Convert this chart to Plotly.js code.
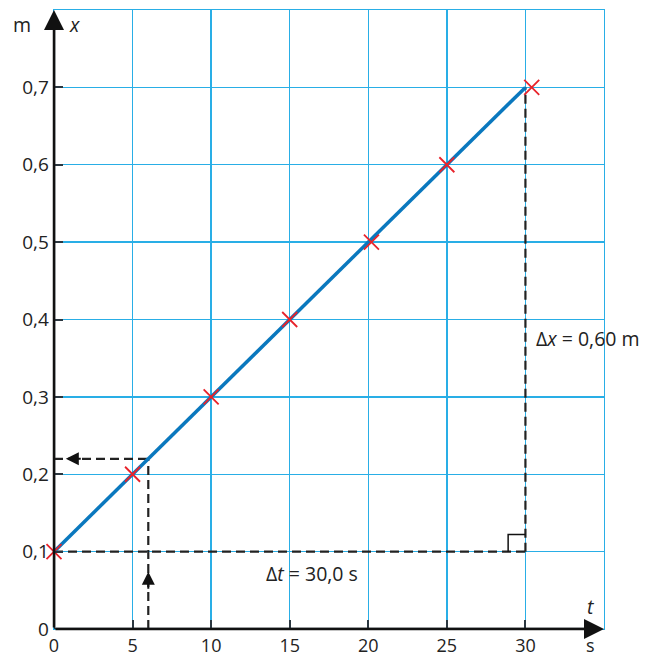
<!DOCTYPE html>
<html><head><meta charset="utf-8">
<script src="https://cdn.plot.ly/plotly-3.0.1.min.js"></script>
<style>body{margin:0;background:#fff}#c{width:647px;height:659px}</style>
</head><body><div id="c"></div>
<script>
// measured points (t in s, x in m)
const tData = [0, 5, 10, 15, 20.2, 25, 30.4];
const xData = [0.1, 0.2, 0.3, 0.4, 0.5, 0.6, 0.7];
// fitted line
const fitT = [0, 30];
const fitX = [0.1, 0.7];
// reading construction
const readT = 6.0;
const readX = 0.22;
// tick values / labels
const xTickVals = [0, 5, 10, 15, 20, 25, 30];
const xTickText = ['0', '5', '10', '15', '20', '25', '30'];
const yTickVals = [0, 0.1, 0.2, 0.3, 0.4, 0.5, 0.6, 0.7];
const yTickText = ['0', '0,1', '0,2', '0,3', '0,4', '0,5', '0,6', '0,7'];
const xMax = 35, yMax = 0.8;

const dark = '#2b3740';
const grid = '#29aee6';
const FONT = 'Open Sans, sans-serif';
const DASH = '9px,5px';

const traces = [
  {x:[fitT[0], fitT[1]], y:[fitX[0], fitX[0]], mode:'lines', line:{color:'#222', width:2.2, dash:DASH}, hoverinfo:'skip'},
  {x:[fitT[1], fitT[1]], y:[fitX[0], fitX[1]], mode:'lines', line:{color:'#222', width:2.2, dash:DASH}, hoverinfo:'skip'},
  {x:[readT, readT], y:[0, readX], mode:'lines', line:{color:'#222', width:2.2, dash:DASH}, hoverinfo:'skip'},
  {x:[0, readT], y:[readX, readX], mode:'lines', line:{color:'#222', width:2.2, dash:DASH}, hoverinfo:'skip'},
  {x:fitT, y:fitX, mode:'lines', line:{color:'#0a78be', width:3.5}, hoverinfo:'skip'},
  {x:tData, y:xData, mode:'markers', marker:{symbol:'x-thin', size:15, line:{color:'#e8232b', width:1.8}}, cliponaxis:false}
];

const ann = [];
// axis arrows
ann.push({x:0, y:yMax, ax:0, ay:0, xref:'x', yref:'y', axref:'x', ayref:'y', showarrow:true, arrowhead:2, arrowsize:1.6, arrowwidth:2.5, arrowcolor:'#111', text:''});
ann.push({x:xMax, y:0, ax:0, ay:0, xref:'x', yref:'y', axref:'x', ayref:'y', showarrow:true, arrowhead:2, arrowsize:1.6, arrowwidth:2.5, arrowcolor:'#111', text:''});
// small reading arrows
ann.push({x:readT, y:0.074, ax:readT, ay:0.05, xref:'x', yref:'y', axref:'x', ayref:'y', showarrow:true, arrowhead:2, arrowsize:1.3, arrowwidth:2, arrowcolor:'#111', text:''});
ann.push({x:0.75, y:readX, ax:1.8, ay:readX, xref:'x', yref:'y', axref:'x', ayref:'y', showarrow:true, arrowhead:2, arrowsize:1.3, arrowwidth:2, arrowcolor:'#111', text:''});
// labels (paper coordinates: plot area spans 54..604 px horizontally, 10..629 px vertically)
const lf = {family:FONT, size:19.5, color:'#222'};
const C = {xanchor:'center', yanchor:'middle', showarrow:false, font:lf};
ann.push(Object.assign({x:-0.058, y:0.976, xref:'paper', yref:'paper', text:'m'}, C));
ann.push(Object.assign({x:0.038, y:0.976, xref:'paper', yref:'paper', text:'<i>x</i>'}, C));
ann.push(Object.assign({x:0.976, y:0.036, xref:'paper', yref:'paper', text:'<i>t</i>'}, C));
ann.push(Object.assign({x:0.976, y:-0.026, xref:'paper', yref:'paper', text:'s'}, C, {font:{family:FONT, size:18, color:'#222'}}));
ann.push(Object.assign({x:16.4, y:0.072, xref:'x', yref:'y', text:'Δ<i>t</i> = 30,0 s'}, C));
ann.push(Object.assign({x:34.0, y:0.376, xref:'x', yref:'y', text:'Δ<i>x</i> = 0,60 m'}, C));

const shapes = [
  {type:'line', xref:'x', yref:'y', x0:0, x1:0, y0:0, y1:yMax*0.985, line:{color:dark, width:2.5}},
  {type:'line', xref:'x', yref:'y', x0:0, x1:xMax*0.985, y0:0, y1:0, line:{color:dark, width:2.5}},
  {type:'path', xref:'x', yref:'y', path:'M 28.9 0.1 L 28.9 0.122 L 30 0.122', line:{color:'#111', width:1.5}}
];

const layout = {
  width:647, height:659,
  margin:{l:54, r:43, t:10, b:30},
  paper_bgcolor:'#fff', plot_bgcolor:'#fff',
  showlegend:false,
  xaxis:{range:[0, xMax], tickvals:xTickVals, ticktext:xTickText, showgrid:true, gridcolor:grid, gridwidth:1.3,
    zeroline:false, showline:true, mirror:true, linecolor:grid, linewidth:1.3,
    ticks:'inside', ticklen:9, tickwidth:2, tickcolor:dark, tickfont:{family:FONT, size:18, color:'#222'}, fixedrange:true},
  yaxis:{range:[0, yMax], tickvals:yTickVals, ticktext:yTickText, showgrid:true, gridcolor:grid, gridwidth:1.3,
    zeroline:false, showline:true, mirror:true, linecolor:grid, linewidth:1.3,
    ticks:'inside', ticklen:9, tickwidth:2, tickcolor:dark, tickfont:{family:FONT, size:19, color:'#222'}, fixedrange:true},
  annotations:ann, shapes:shapes
};
Plotly.newPlot('c', traces, layout, {displayModeBar:false, staticPlot:true});
</script></body></html>
